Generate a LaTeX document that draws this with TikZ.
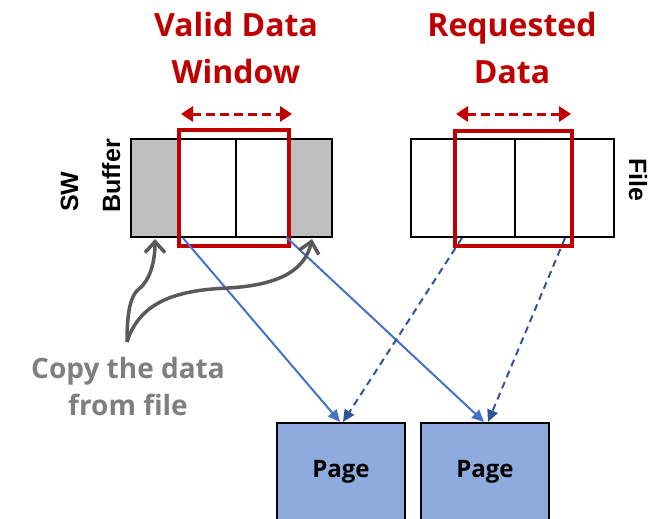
\documentclass[tikz,border=0pt]{standalone}
\usepackage{fontspec}
\setmainfont{Open Sans}
\newfontfamily\arialfont{Liberation Sans}
\usetikzlibrary{arrows.meta}
\definecolor{darkred}{HTML}{C00000}
\definecolor{cellgray}{HTML}{BFBFBF}
\definecolor{pageblue}{HTML}{8FAADC}
\definecolor{linkblue}{HTML}{4472C4}
\definecolor{dashblue}{HTML}{2F5597}
\definecolor{curlgray}{HTML}{595959}
\definecolor{textgray}{HTML}{7F7F7F}
\tikzset{
  title/.style={text=darkred, font=\fontsize{32}{40}\selectfont\bfseries, anchor=base, inner sep=0},
  cellbox/.style={draw=black, line width=2.6pt, inner sep=0},
  winbox/.style={draw=darkred, line width=4pt, inner sep=0},
  rangearrow/.style={draw=darkred, line width=3pt, dash pattern=on 9pt off 5pt, {Triangle[length=12pt,width=15pt]}-{Triangle[length=12pt,width=15pt]}},
  pagebox/.style={draw=black, fill=pageblue, line width=2.2pt, inner sep=0, minimum width=128pt, minimum height=98pt, font=\fontsize{24}{28}\selectfont\bfseries},
  solidlink/.style={draw=linkblue, line width=2pt, -{Triangle[length=12pt,width=11pt]}},
  dashlink/.style={draw=dashblue, line width=2pt, dash pattern=on 7pt off 5pt, -{Triangle[length=12pt,width=11pt]}},
  curl/.style={draw=curlgray, line width=3.5pt, -{Straight Barb[length=11pt,width=20pt]}},
  sidelabel/.style={font=\arialfont\fontsize{25}{30}\selectfont\bfseries, inner sep=0},
  copytext/.style={text=textgray, font=\fontsize{28}{32}\selectfont\bfseries, anchor=base, inner sep=0}
}
\begin{document}
\begin{tikzpicture}[x=1pt,y=-1pt]
\useasboundingbox (0,0) rectangle (664,519);
% titles
\node[title] (t1) at (236,37) {Valid Data};
\node[title] (t2) at (236,83) {Window};
\node[title] (t3) at (512,37) {Requested};
\node[title] (t4) at (512,83) {Data};
% SW buffer
\fill[cellgray] (131,139) rectangle (180,237);
\fill[cellgray] (289,139) rectangle (332,237);
\node[cellbox, minimum width=201pt, minimum height=98pt] (buf) at (231.5,188) {};
\draw[line width=2.6pt] (buf.north) ++(4.5,0) coordinate (bd1) -- (bd1 |- buf.south);
\node[winbox, minimum width=110pt, minimum height=116pt] (win) at (234,188) {};
\coordinate (wa1) at (181,114);
\coordinate (wa2) at (292,114);
\draw[rangearrow] (wa1) -- (wa2);
% file
\node[cellbox, minimum width=203pt, minimum height=98pt] (file) at (512.5,188) {};
\draw[line width=2.6pt] (515,139) coordinate (fd1) -- (515,237);
\node[winbox, minimum width=117pt, minimum height=115pt] (req) at (513.5,188.5) {};
\coordinate (ra1) at (456,114);
\coordinate (ra2) at (571,114);
\draw[rangearrow] (ra1) -- (ra2);
% side labels
\node[sidelabel, rotate=90, anchor=base west] (sw) at (78,212) {SW};
\node[sidelabel, rotate=90, anchor=base west] (bf) at (120,213) {Buffer};
\node[sidelabel, rotate=-90, anchor=base west] (fl) at (629,158) {File};
% pages
\node[pagebox] (p1) at (341,472) {Page};
\node[pagebox] (p2) at (485,472) {Page};
% links
\coordinate (s1) at (183,238);
\coordinate (s2) at (286,237);
\coordinate (d1) at (462,238);
\coordinate (d2) at (565,238);
\draw[solidlink] (s1) -- ([xshift=-1pt]p1.north);
\draw[solidlink] (s2) -- ([xshift=-1pt]p2.north);
\draw[dashlink] (d1) -- ([xshift=2pt]p1.north);
\draw[dashlink] (d2) -- ([xshift=3pt]p2.north);
% copy note
\node[copytext] (c1) at (128,378) {Copy the data};
\node[copytext] (c2) at (128,415) {from file};
\coordinate (cs) at (127,342);
\coordinate (ct1) at (155,239);
\coordinate (ct2) at (312,239);
\draw[curl] (cs) .. controls (127,310) and (131,295) .. (139,289) .. controls (150,280) and (155,262) .. (ct1);
\draw[curl] (cs) .. controls (140,300) and (180,290) .. (228,288) .. controls (280,285) and (305,270) .. (ct2);
\end{tikzpicture}
\end{document}
